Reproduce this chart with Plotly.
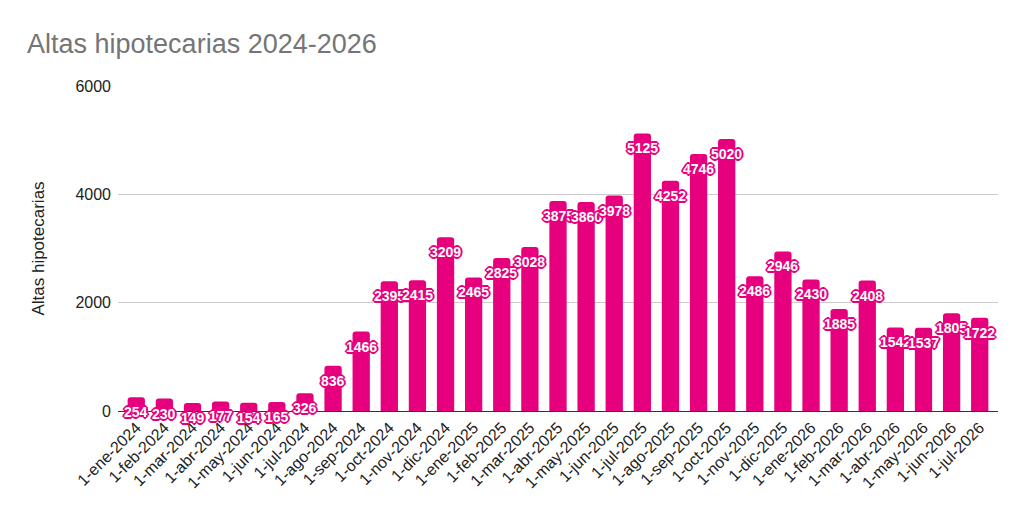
import plotly.graph_objects as go

months = ["1-ene-2024", "1-feb-2024", "1-mar-2024", "1-abr-2024", "1-may-2024", "1-jun-2024",
          "1-jul-2024", "1-ago-2024", "1-sep-2024", "1-oct-2024", "1-nov-2024", "1-dic-2024",
          "1-ene-2025", "1-feb-2025", "1-mar-2025", "1-abr-2025", "1-may-2025", "1-jun-2025",
          "1-jul-2025", "1-ago-2025", "1-sep-2025", "1-oct-2025", "1-nov-2025", "1-dic-2025",
          "1-ene-2026", "1-feb-2026", "1-mar-2026", "1-abr-2026", "1-may-2026", "1-jun-2026",
          "1-jul-2026"]
altas = [254, 230, 149, 177, 154, 165, 326, 836, 1466, 2395, 2415, 3209,
         2465, 2825, 3028, 3875, 3860, 3978, 5125, 4252, 4746, 5020, 2486, 2946,
         2430, 1885, 2408, 1542, 1537, 1805, 1722]
y_ticks = [0, 2000, 4000, 6000]

PINK = "#e6007e"
FONT = "Arial, Liberation Sans, sans-serif"

fig = go.Figure(go.Bar(
    x=months, y=altas, marker_color=PINK, marker_line_width=0,
    hoverinfo="x+y",
))

shadow = ", ".join(f"{dx}px {dy}px 0px {PINK}" for dx, dy in
                   [(1, 0), (-1, 0), (0, 1), (0, -1), (1, 1), (-1, -1), (1, -1), (-1, 1),
                    (2, 0), (-2, 0), (0, 2), (0, -2)])
for m, v in zip(months, altas):
    fig.add_annotation(x=m, y=v, text=str(v), showarrow=False, yshift=-15,
                       font=dict(family=FONT, size=14, color="white", weight="bold",
                                 shadow=shadow))

fig.update_layout(
    width=1024, height=518,
    margin=dict(l=110, r=34, t=78, b=115),
    paper_bgcolor="white", plot_bgcolor="white",
    bargap=0.385, barcornerradius=3,
    font=dict(family=FONT, color="#222222", size=16),
    title=dict(text="Altas hipotecarias 2024-2026", x=0.0186, xanchor="left",
               y=0.932, yanchor="middle",
               font=dict(family=FONT, size=27, color="#757575")),
    showlegend=False,
)
fig.update_xaxes(tickangle=-45, tickfont=dict(size=16, color="#222222"),
                 range=[-0.65, len(months) - 0.35],
                 showgrid=False, showline=True, linecolor="#333333", linewidth=1,
                 ticks="", automargin=False)
fig.update_yaxes(range=[0, 6000], tickvals=y_ticks, showgrid=True,
                 gridcolor="#cccccc", gridwidth=1, zeroline=False,
                 tickfont=dict(size=16, color="#222222"), ticklabelstandoff=6,
                 title=dict(text="Altas hipotecarias", font=dict(size=17, color="#222222"),
                            standoff=26),
                 automargin=False)

fig.write_html("out.html")
